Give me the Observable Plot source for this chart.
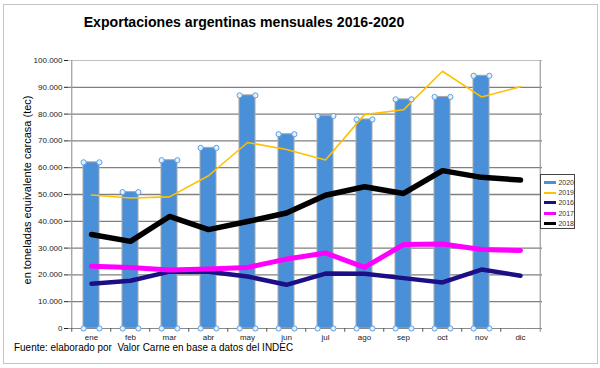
<!DOCTYPE html>
<html><head><meta charset="utf-8">
<script src="https://cdn.jsdelivr.net/npm/d3@7"></script>
<script src="https://cdn.jsdelivr.net/npm/@observablehq/plot@0.6"></script>
<style>
body{margin:0;background:#fff;font-family:"Liberation Sans",Arial,sans-serif;}
#wrap{position:relative;width:600px;height:368px;overflow:hidden;background:#fff;}
#frame{position:absolute;left:3px;top:4px;width:593px;height:358px;border:1px solid #c4c4c4;}
#chart{position:absolute;left:0;top:0;}
#title{position:absolute;left:44px;width:400px;top:13px;text-align:center;font-weight:bold;font-size:15px;color:#000;transform:scaleX(0.94);}
#ylabel{position:absolute;left:27px;top:190px;transform:translate(-50%,-50%) rotate(-90deg);white-space:nowrap;font-size:11px;color:#000;}
#source{position:absolute;left:14px;top:341px;font-size:11.5px;color:#000;white-space:pre;transform:scaleX(0.865);transform-origin:0 0;}
#legend{position:absolute;left:540px;top:174px;width:35px;height:55px;border:1px solid #444;background:#fff;box-sizing:border-box;padding-top:2px;}
.row{display:flex;align-items:center;height:10.4px;font-size:7px;color:#333;}
.sw{width:16px;margin-left:3px;margin-right:2px;}
</style></head><body>
<div id="wrap">
 <div id="frame"></div>
 <div id="chart"></div>
 <div id="title">Exportaciones argentinas mensuales 2016-2020</div>
 <div id="ylabel">en toneladas equivalente carcasa (tec)</div>
 <div id="legend"></div>
 <div id="source">Fuente: elaborado por  Valor Carne en base a datos del INDEC</div>
</div>
<script>
const months = ["ene","feb","mar","abr","may","jun","jul","ago","sep","oct","nov","dic"];
const yTicks = [0,10000,20000,30000,40000,50000,60000,70000,80000,90000,100000];
const v2020 = [62000,50900,62800,67400,87000,72500,79300,78000,85500,86400,94300,null];
const v2019 = [49800,48700,49100,57000,69400,66800,62900,79800,81600,96000,86400,90200];
const v2016 = [16700,17800,21200,21200,19400,16300,20500,20400,18800,17200,22000,19700];
const v2017 = [23200,22800,21800,22200,22800,25900,28200,22800,31300,31500,29500,29100];
const v2018 = [35100,32500,41800,36900,39900,43100,49700,52900,50400,58900,56400,55400];
const legendNames = ["2020","2019","2016","2017","2018"];

const colors = {"2020":"#4a90d9","2019":"#ffc000","2016":"#1c0f86","2017":"#ff00ff","2018":"#000000"};
const widths = {"2020":4,"2019":1.6,"2016":4.5,"2017":5,"2018":5.5};

const rows = (arr) => months.map((m,i)=>({month:m, value:arr[i]})).filter(d=>d.value!=null);
const bars = rows(v2020);
const lineSeries = [["2019",v2019],["2016",v2016],["2017",v2017],["2018",v2018]];

const fmt = d => d===0 ? "0" : d3.format(",")(d).replace(/,/g,".");

const W=600,H=368,mL=68,mR=58,mT=60,mB=40;
const step=(W-mL-mR)/months.length;
const half=step/2;
const barHalf=step*0.4/2;

const marks = [
  Plot.gridY(yTicks.filter(d=>d>0&&d<100000), {stroke:"#808080", strokeOpacity:1, strokeWidth:1.3}),
  Plot.ruleY([100000], {stroke:"#c0c0c0", strokeWidth:1.2}),
  Plot.ruleX([months[0]], {dx:-half, stroke:"#9a9a9a", strokeWidth:1.2}),
  Plot.ruleX([months[months.length-1]], {dx:half, stroke:"#9a9a9a", strokeWidth:1.2, y1:-1400, y2:100000}),
  Plot.barY(bars, {x:"month", y:"value", fill:colors["2020"], stroke:"#a8a8a8", strokeWidth:1}),
  ...lineSeries.map(([name,arr]) => Plot.line(rows(arr), {x:"month", y:"value", stroke:colors[name], strokeWidth:widths[name], strokeLinejoin:"round", strokeLinecap:"round"})),
  Plot.ruleY([0], {stroke:"#8a8a8a", strokeWidth:1.2}),
  Plot.ruleX(months, {x:d=>d, dx:-half, y1:0, y2:-1400, stroke:"#555", strokeWidth:1}),
  ...[-barHalf, barHalf].flatMap(dx => [
    Plot.dot(bars, {x:"month", y:"value", dx, r:2.6, fill:"#e6f0fb", stroke:"#5aa0e6", strokeWidth:1}),
    Plot.dot(bars, {x:"month", y:()=>0, dx, r:2.6, fill:"#e6f0fb", stroke:"#5aa0e6", strokeWidth:1})
  ])
];

const chart = Plot.plot({
  width:W, height:H, marginTop:mT, marginBottom:mB, marginLeft:mL, marginRight:mR,
  style:{fontFamily:"'Liberation Sans', Arial, sans-serif", fontSize:"8px", color:"#222", background:"transparent", overflow:"visible"},
  x:{domain:months, paddingInner:0.6, paddingOuter:0.3, align:0.5, label:null, tickSize:0, tickPadding:6},
  y:{domain:[0,100000], ticks:yTicks, tickFormat:fmt, label:null, tickSize:4, tickPadding:2},
  marks
});
document.getElementById("chart").appendChild(chart);

const leg = document.getElementById("legend");
for (const n of legendNames) {
  const r = document.createElement("div"); r.className="row";
  const s = document.createElement("div"); s.className="sw";
  s.style.height = (n==="2019"?2:3)+"px"; s.style.background = colors[n];
  const t = document.createElement("span"); t.textContent = n;
  r.appendChild(s); r.appendChild(t); leg.appendChild(r);
}
</script>
</body></html>
